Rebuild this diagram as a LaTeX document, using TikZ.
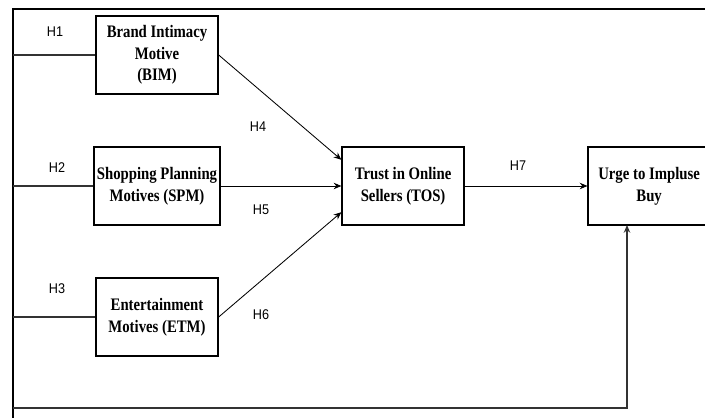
\documentclass[tikz,border=0pt]{standalone}
\usepackage{fontspec}
\setmainfont{Liberation Serif}
\newfontfamily\boxfont[FakeStretch=0.84]{Liberation Serif}
\newfontfamily\hypfont[FakeStretch=0.9]{Liberation Sans}
\usetikzlibrary{positioning, arrows.meta}

\begin{document}
\begin{tikzpicture}[x=0.025cm,y=-0.025cm,node distance=6.15cm,on grid,
   construct/.style={draw,line width=0.9pt,minimum width=3.05cm,minimum height=1.95cm,
      align=center,inner sep=2pt,font=\boxfont\bfseries\fontsize{12.5}{15.4}\selectfont},
   hyp/.style={font=\hypfont\fontsize{10}{12}\selectfont},
   path/.style={line width=0.6pt,-{Stealth[length=5.5pt,width=4.6pt]}},
   link/.style={line width=0.8pt,draw=black!80},
   frame/.style={line width=1.4pt}]
   \useasboundingbox (0,0) rectangle (705,418);
   \begin{scope}
   \clip (0,0) rectangle (705,418);
   \node[construct] (spm) at (157,186) {Shopping Planning\\Motives (SPM)};
   \node[construct] (bim) [above=3.275cm of spm] {Brand Intimacy\\Motive\\(BIM)};
   \node[construct] (etm) [below=3.275cm of spm] {Entertainment\\Motives (ETM)};
   \node[construct] (tos) [right=of spm] {Trust in Online\\Sellers (TOS)};
   \node[construct] (uib) [right=of tos] {Urge to Impluse\\Buy};

   % outer frame
   \coordinate (tl) at (13,9);
   \coordinate (tr) at (705,9);
   \coordinate (bl) at (13,418);
   \coordinate (fb) at (13,408);
   \coordinate (ub) at (627,225);
   \draw[frame] (tr) -- (tl) -- (bl);

   \draw[link] (bim.west -| tl) -- (bim.west);
   \draw[link] (spm.west -| tl) -- (spm.west);
   \draw[link] (etm.west -| tl) -- (etm.west);

   \draw[path] (bim.east) -- (tos.157);
   \draw[path] (spm.east) -- (tos.west);
   \draw[path] (etm.east) -- (tos.203);
   \draw[path] (tos.east) -- (uib.west);
   \draw[path,line width=0.8pt,draw=black!80] (fb) -| (ub);

   \node[hyp] (h1) at (55,32) {H1};
   \node[hyp] (h2) at (57,168) {H2};
   \node[hyp] (h3) at (57,289) {H3};
   \node[hyp] (h4) at (258,127) {H4};
   \node[hyp] (h5) at (261,210) {H5};
   \node[hyp] (h6) at (261,315) {H6};
   \node[hyp] (h7) at (518,166) {H7};
   \end{scope}
\end{tikzpicture}
\end{document}
